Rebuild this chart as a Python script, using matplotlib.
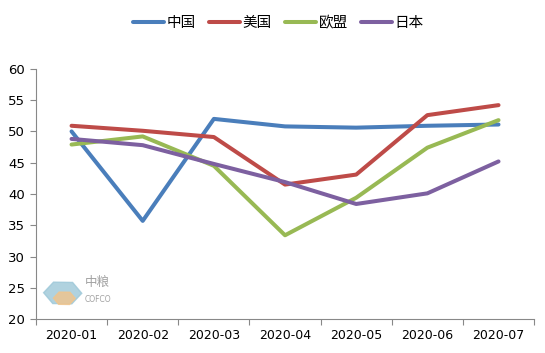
import matplotlib
matplotlib.use('Agg')
import matplotlib.pyplot as plt
from matplotlib.patches import RegularPolygon

plt.rcParams['font.family'] = ['Noto Sans CJK SC', 'DejaVu Sans']

months = ['2020-01', '2020-02', '2020-03', '2020-04', '2020-05', '2020-06', '2020-07']
china = [50.0, 35.7, 52.0, 50.8, 50.6, 50.9, 51.1]
usa = [50.9, 50.1, 49.1, 41.5, 43.1, 52.6, 54.2]
eu = [47.9, 49.2, 44.5, 33.4, 39.4, 47.4, 51.8]
japan = [48.8, 47.8, 44.8, 41.9, 38.4, 40.1, 45.2]

series = [('中国', china, '#4a7ebb'),
          ('美国', usa, '#be4b48'),
          ('欧盟', eu, '#98b954'),
          ('日本', japan, '#7d60a0')]

fig = plt.figure(figsize=(5.45, 3.53), dpi=100)
ax = fig.add_axes([0.066, 0.096, 0.914, 0.709])

x = list(range(len(months)))
for name, vals, col in series:
    ax.plot(x, vals, color=col, lw=2.9, label=name, solid_capstyle='round')

ax.set_xlim(-0.5, len(months) - 0.5)
ax.set_ylim(20, 60)
ax.set_yticks(range(20, 61, 5))
ax.set_xticks([i - 0.5 for i in range(len(months) + 1)])
ax.set_xticklabels([])
ax.set_xticks(x, minor=True)
ax.set_xticklabels(months, minor=True, family='DejaVu Sans')
for lab in ax.get_yticklabels():
    lab.set_family('DejaVu Sans')
ax.tick_params(axis='x', which='minor', length=0, pad=7, labelsize=9)
ax.tick_params(axis='x', which='major', length=4, color='#888888', direction='out')
ax.tick_params(axis='y', length=4, color='#888888', labelsize=9.5, pad=4)
for s in ['top', 'right']:
    ax.spines[s].set_visible(False)
for s in ['left', 'bottom']:
    ax.spines[s].set_color('#888888')

leg = fig.legend(loc='center', bbox_to_anchor=(0.511, 0.935), ncol=4, frameon=False,
                 fontsize=10.5, handlelength=2.1, columnspacing=0.9, handletextpad=0.2)

# logo watermark
fig.patches.append(RegularPolygon((0.115, 0.17), 6, radius=0.035, orientation=0.5,
                                  transform=fig.transFigure, color='#9cc7d8', alpha=0.8))
fig.patches.append(RegularPolygon((0.118, 0.155), 6, radius=0.02, orientation=0.5,
                                  transform=fig.transFigure, color='#f2c48a', alpha=0.8))
fig.text(0.155, 0.19, '中粮', color='#8a8a8a', fontsize=9, alpha=0.8)
fig.text(0.155, 0.145, 'COFCO', color='#8a8a8a', fontsize=5.5, alpha=0.8, family='DejaVu Sans')

fig.savefig('out.png', dpi=100)
